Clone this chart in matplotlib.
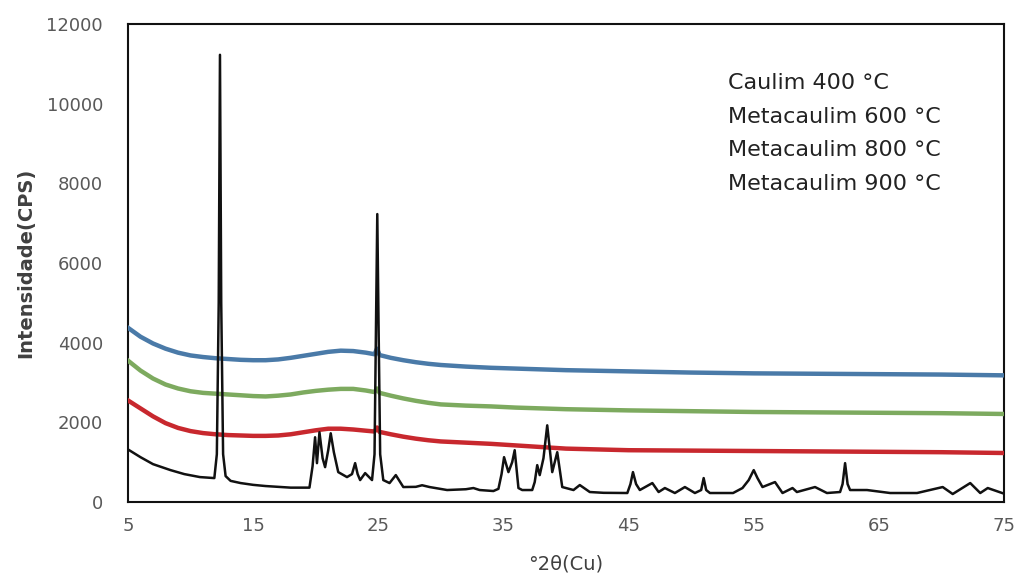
import matplotlib.pyplot as plt

# Caulim 400 C (black trace)
theta_400 = [5.1, 6, 7, 8.4, 9.5, 10.75, 11.9, 12.1, 12.25, 12.35, 12.45, 12.6, 12.8, 13.2, 14, 15, 16, 17, 18, 19.5,
             19.75, 19.95, 20.1, 20.3, 20.55, 20.75, 21.0, 21.2, 21.45, 21.8, 22.5, 22.9, 23.15, 23.35, 23.55, 23.95,
             24.5, 24.7, 24.82, 24.92, 25.02, 25.15, 25.4, 25.9, 26.4, 27.0, 28.0, 28.5, 29.1, 30.5, 32.0, 32.6, 33.1,
             34.2, 34.6, 34.85, 35.05, 35.4, 35.7, 35.9, 36.2, 36.5, 37.3, 37.5, 37.7, 37.9, 38.2, 38.5, 38.9, 39.1,
             39.3, 39.7, 40.6, 41.1, 41.9, 43.0, 44.9, 45.15, 45.35, 45.6, 45.9, 46.9, 47.4, 47.9, 48.7, 49.5, 50.3,
             50.8, 51.0, 51.2, 51.5, 53.35, 54.1, 54.6, 55.0, 55.3, 55.7, 56.7, 57.3, 58.1, 58.45, 59.9, 60.85, 61.9,
             62.1, 62.3, 62.5, 62.7, 64.05, 65.9, 68.05, 70.1, 70.9, 72.3, 73.1, 73.7, 74.85]
int_400 = [1300, 1125, 950, 800, 700, 625, 600, 1200, 5000, 11230, 5000, 1200, 650, 530, 475, 430, 400, 380, 360, 360,
           900, 1625, 975, 1750, 1100, 875, 1300, 1725, 1250, 750, 625, 700, 975, 700, 550, 725,
           550, 1200, 4500, 7230, 4500, 1200, 550, 475, 675, 375, 380, 420, 375, 300, 320, 350, 300,
           275, 330, 700, 1125, 750, 1000, 1300, 350, 300, 300, 500, 925, 675, 1100, 1925, 750, 1000,
           1250, 375, 300, 425, 250, 230, 225, 450, 750, 450, 300, 475, 250, 350, 225, 375, 225,
           300, 600, 300, 225, 225, 350, 550, 800, 600, 375, 500, 225, 350, 250, 375, 225, 250,
           450, 975, 450, 300, 300, 225, 225, 375, 200, 475, 225, 350, 225]

# Metacaulim traces (stacked in the original)
theta_meta = [5, 6, 7, 8, 9, 10, 11, 12, 13, 14, 15, 16, 17, 18, 19, 20, 21, 22, 23, 24, 24.7, 24.9, 25.1, 26,
              27, 28, 29, 30, 32, 34, 36, 38, 40, 45, 50, 55, 60, 65, 70, 75]
int_600 = [2550, 2350, 2150, 1980, 1860, 1780, 1730, 1700, 1680, 1670, 1660, 1660, 1670, 1700, 1750, 1800, 1840,
           1840, 1820, 1790, 1770, 1870, 1760, 1700, 1640, 1590, 1550, 1520, 1490, 1460, 1420, 1380, 1340, 1300,
           1290, 1280, 1270, 1260, 1250, 1230]
int_800 = [3550, 3300, 3100, 2950, 2850, 2780, 2740, 2720, 2700, 2680, 2660, 2650, 2670, 2700, 2750, 2790, 2820,
           2840, 2840, 2800, 2760, 2850, 2740, 2670, 2600, 2540, 2490, 2450, 2420, 2400, 2370, 2350, 2330, 2300,
           2280, 2260, 2250, 2240, 2230, 2210]
int_900 = [4375, 4150, 3980, 3850, 3750, 3680, 3640, 3610, 3590, 3570, 3560, 3560, 3580, 3620, 3670, 3720, 3770,
           3800, 3790, 3750, 3710, 3850, 3690, 3620, 3560, 3510, 3470, 3440, 3400, 3370, 3350, 3330, 3310, 3280,
           3250, 3230, 3220, 3210, 3200, 3180]

labels = ['Caulim 400 °C', 'Metacaulim 600 °C', 'Metacaulim 800 °C', 'Metacaulim 900 °C']

fig = plt.figure(figsize=(10.19, 5.75), dpi=100)
ax = fig.add_axes([0.1256, 0.127, 0.8597, 0.831])

l1, = ax.plot(theta_400, int_400, color='#111111', lw=1.8, zorder=5)
l2, = ax.plot(theta_meta, int_600, color='#c8282e', lw=3.2, zorder=3)
l3, = ax.plot(theta_meta, int_800, color='#7daa5f', lw=3.2, zorder=3)
l4, = ax.plot(theta_meta, int_900, color='#4a7aa8', lw=3.2, zorder=3)

ax.set_xlim(5, 75)
ax.set_ylim(0, 12000)
ax.set_xticks(range(5, 76, 10))
ax.set_yticks(range(0, 12001, 2000))
ax.tick_params(length=0, labelsize=13, labelcolor='#595959')
ax.tick_params(axis='y', pad=18)
ax.tick_params(axis='x', pad=11)
for s in ax.spines.values():
    s.set_color('#111111')
    s.set_linewidth(1.5)

ax.set_ylabel('Intensidade(CPS)', fontsize=14, color='#404040', fontweight='bold', labelpad=8)
ax.set_xlabel('°2θ(Cu)', fontsize=14, color='#404040', labelpad=14)

leg = ax.legend([l1, l2, l3, l4], labels, loc='upper left', bbox_to_anchor=(0.662, 0.94),
                frameon=False, handlelength=0, handletextpad=0, fontsize=16, labelspacing=0.62)
for h in leg.legend_handles:
    h.set_visible(False)
for t in leg.get_texts():
    t.set_color('#222222')

plt.savefig('out.png', dpi=100)
